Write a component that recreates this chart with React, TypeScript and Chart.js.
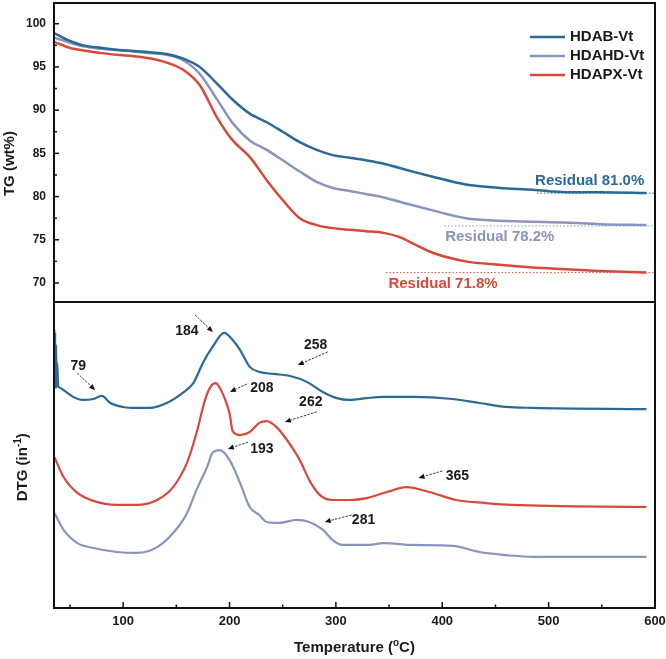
import React, { useEffect, useRef } from 'react';
import { Chart, registerables } from 'chart.js';
Chart.register(...registerables);

const FONT = '"Liberation Sans", Arial, Helvetica, sans-serif';
const INK = '#1a1a1a';

const seriesNames = ['HDAB-Vt', 'HDAHD-Vt', 'HDAPX-Vt'];
const seriesColors = ['#2b6a97', '#8a94bd', '#d8493c'];

const tempMin = 35;
const tempMax = 600;
const tempTicks = [100, 200, 300, 400, 500, 600];
const tempMinorTicks = [50, 150, 250, 350, 450, 550];
const tgTicks = [70, 75, 80, 85, 90, 95, 100];
const tgMinorTicks = [72.5, 77.5, 82.5, 87.5, 92.5, 97.5];

// TG curves (wt%)
const tgTemperature = [35.3, 50, 62.5, 80, 94, 110, 125, 141, 156, 172, 188, 203, 219, 235, 250, 266, 282, 297, 313, 328, 345, 360, 375, 391, 422, 454, 485, 516, 548, 592];
const tgHDAB = [98.9, 98.0, 97.5, 97.2, 97.0, 96.85, 96.7, 96.5, 96.0, 95.0, 93.1, 91.2, 89.6, 88.6, 87.5, 86.3, 85.4, 84.8, 84.5, 84.2, 83.8, 83.3, 82.8, 82.3, 81.4, 81.0, 80.8, 80.5, 80.5, 80.4];
const tgHDAHD = [98.4, 97.8, 97.4, 97.1, 96.95, 96.8, 96.6, 96.4, 95.8, 94.2, 91.3, 88.5, 86.5, 85.4, 84.2, 82.9, 81.7, 81.0, 80.65, 80.3, 79.9, 79.4, 78.9, 78.4, 77.5, 77.2, 77.1, 77.0, 76.8, 76.7];
const tgHDAPX = [97.9, 97.2, 96.9, 96.6, 96.4, 96.25, 96.0, 95.5, 94.7, 92.9, 89.2, 86.5, 84.6, 81.9, 79.6, 77.5, 76.7, 76.35, 76.15, 76.0, 75.8, 75.3, 74.4, 73.5, 72.5, 72.1, 71.8, 71.6, 71.4, 71.2];

// Residual annotations
const residualText = ['Residual 81.0%', 'Residual 78.2%', 'Residual 71.8%'];
const residualTextT = [538.6, 454.1, 400.7];
const residualTextV = [81.8, 75.3, 69.9];
const residualLineStartT = [489, 402, 347];
const residualLineV = [80.4, 76.6, 71.2];

// DTG curves (arbitrary units, offset)
const dtgTempHDAB = [35.3, 35.7, 36.1, 36.5, 37, 37.5, 38, 39, 41, 44, 53, 62.5, 72, 80, 88, 100, 113, 125, 141, 156, 166, 175, 184, 195, 203, 210, 219, 228.5, 241, 257, 272.6, 287.6, 300.7, 313, 329, 345, 372, 410, 435, 460, 485, 592];
const dtgHDAB = [91, 72, 90, 72, 86, 72, 80, 72.5, 71.9, 71.2, 69.0, 68.0, 68.3, 69.3, 67.0, 65.7, 65.4, 65.4, 67.0, 70.3, 73.5, 80.1, 85.3, 89.9, 87.6, 84.3, 78.8, 77.1, 76.5, 75.8, 73.9, 70.6, 68.6, 68.0, 68.6, 69.0, 69.0, 68.3, 67.0, 65.7, 65.4, 65.0];
const dtgTempHDAHD = [35.5, 44, 57, 72, 94, 113, 132, 147, 160, 169, 179, 184, 191, 200, 210, 219, 228, 235, 247, 263, 275, 288, 297, 306, 329, 345, 372, 410, 435, 460, 485, 592];
const dtgHDAHD = [31.0, 25.5, 21.2, 19.6, 18.3, 18.0, 19.9, 24.5, 31.0, 38.6, 46.1, 50.7, 51.6, 48.4, 40.8, 33.0, 30.4, 28.1, 27.8, 28.8, 28.1, 25.5, 22.2, 20.6, 20.6, 21.2, 20.6, 20.3, 18.3, 17.3, 16.7, 16.7];
const dtgTempHDAPX = [35.5, 44, 57, 72, 94, 113, 132, 147, 160, 169, 177, 182, 187, 191, 196, 200, 203, 210, 219, 228, 235, 244, 254, 266, 275, 285, 297, 313, 329, 348, 366, 388, 413, 441, 466, 592];
const dtgHDAPX = [49.3, 42.8, 37.6, 35.0, 33.7, 33.7, 35.3, 39.5, 47.4, 57.2, 68.0, 72.2, 73.5, 71.9, 68.0, 63.7, 57.8, 56.5, 57.5, 60.5, 61.1, 59.2, 54.9, 48.4, 41.8, 36.9, 35.3, 35.3, 35.9, 37.9, 39.5, 37.9, 35.3, 34.3, 33.7, 33.0];

// DTG peak annotations
const peakLabels = ['79', '184', '258', '208', '262', '193', '281', '365'];
const peakLabelT = [57.8, 160, 281, 230.4, 276.4, 230.4, 326, 414.3];
const peakLabelV = [79.1, 90.5, 85.9, 71.9, 67.3, 52.0, 28.8, 43.1];
const arrowFromT = [56.8, 167.5, 292.3, 216.3, 282, 217.3, 314.8, 400.2];
const arrowFromV = [76.8, 95.8, 83.7, 73.2, 64.1, 54.2, 30.4, 44.8];
const arrowToT = [73.7, 184.4, 264.2, 200.4, 252, 198.5, 289.5, 377.7];
const arrowToV = [71.2, 90.2, 79.4, 70.6, 60.8, 52.0, 28.1, 42.5];

const pts = (xs: number[], ys: number[]) => xs.map((x, i) => ({ x, y: ys[i] }));

function drawFrame(ctx: CanvasRenderingContext2D, a: any) {
  ctx.strokeStyle = '#111';
  ctx.lineWidth = 2;
  ctx.strokeRect(a.left, a.top, a.right - a.left, a.bottom - a.top);
}

function drawSupText(ctx: CanvasRenderingContext2D, parts: [string, boolean][], cx: number, cy: number, rotate: boolean) {
  ctx.save();
  ctx.translate(cx, cy);
  if (rotate) ctx.rotate(-Math.PI / 2);
  ctx.fillStyle = INK;
  ctx.textBaseline = 'middle';
  ctx.textAlign = 'left';
  const widths = parts.map(([t, sup]) => {
    ctx.font = sup ? `bold 10px ${FONT}` : `bold 15px ${FONT}`;
    return ctx.measureText(t).width;
  });
  const total = widths.reduce((s, w) => s + w, 0);
  let x = -total / 2;
  parts.forEach(([t, sup], i) => {
    ctx.font = sup ? `bold 10px ${FONT}` : `bold 15px ${FONT}`;
    ctx.fillText(t, x, sup ? -5 : 0);
    x += widths[i];
  });
  ctx.restore();
}

const tgDecor = {
  id: 'tgDecor',
  afterDraw(chart: any) {
    const { ctx, chartArea: a, scales } = chart;
    const ys = scales.y;
    ctx.save();
    drawFrame(ctx, a);
    ctx.lineWidth = 1.5;
    tgTicks.forEach((v) => {
      const y = ys.getPixelForValue(v);
      ctx.beginPath(); ctx.moveTo(a.left, y); ctx.lineTo(a.left + 5, y); ctx.stroke();
    });
    tgMinorTicks.forEach((v) => {
      const y = ys.getPixelForValue(v);
      ctx.beginPath(); ctx.moveTo(a.left, y); ctx.lineTo(a.left + 3, y); ctx.stroke();
    });
    drawSupText(ctx, [['TG (wt%)', false]], 10, a.top + (a.bottom - a.top) * 0.537, true);
    const lx0 = a.right - 125;
    const lx1 = a.right - 90;
    seriesNames.forEach((name, i) => {
      const y = a.top + 34 + i * 19;
      ctx.strokeStyle = seriesColors[i];
      ctx.lineWidth = 2.5;
      ctx.beginPath(); ctx.moveTo(lx0, y); ctx.lineTo(lx1, y); ctx.stroke();
      ctx.fillStyle = INK;
      ctx.font = `bold 15px ${FONT}`;
      ctx.textAlign = 'left';
      ctx.textBaseline = 'middle';
      ctx.fillText(name, lx1 + 5, y);
    });
    residualText.forEach((t, i) => {
      ctx.fillStyle = seriesColors[i];
      ctx.font = `bold 15px ${FONT}`;
      ctx.textAlign = 'center';
      ctx.textBaseline = 'middle';
      ctx.fillText(t, scales.x.getPixelForValue(residualTextT[i]), ys.getPixelForValue(residualTextV[i]));
    });
    ctx.restore();
  },
};

const dtgDecor = {
  id: 'dtgDecor',
  afterDraw(chart: any) {
    const { ctx, chartArea: a, scales } = chart;
    const xs = scales.x;
    const ys = scales.y;
    ctx.save();
    drawFrame(ctx, a);
    ctx.strokeStyle = '#111';
    ctx.lineWidth = 1.5;
    tempTicks.forEach((v) => {
      const x = xs.getPixelForValue(v);
      ctx.beginPath(); ctx.moveTo(x, a.bottom); ctx.lineTo(x, a.bottom - 6); ctx.stroke();
    });
    tempMinorTicks.forEach((v) => {
      const x = xs.getPixelForValue(v);
      ctx.beginPath(); ctx.moveTo(x, a.bottom); ctx.lineTo(x, a.bottom - 3.5); ctx.stroke();
    });
    drawSupText(ctx, [['Temperature (', false], ['o', true], ['C)', false]], (a.left + a.right) / 2, a.bottom + 40, false);
    drawSupText(ctx, [['DTG (in', false], ['-1', true], [')', false]], 23, a.top + (a.bottom - a.top) * 0.54, true);
    peakLabels.forEach((t, i) => {
      ctx.fillStyle = INK;
      ctx.font = `bold 14px ${FONT}`;
      ctx.textAlign = 'center';
      ctx.textBaseline = 'middle';
      ctx.fillText(t, xs.getPixelForValue(peakLabelT[i]), ys.getPixelForValue(peakLabelV[i]));
      const x0 = xs.getPixelForValue(arrowFromT[i]);
      const y0 = ys.getPixelForValue(arrowFromV[i]);
      const x1 = xs.getPixelForValue(arrowToT[i]);
      const y1 = ys.getPixelForValue(arrowToV[i]);
      const ang = Math.atan2(y1 - y0, x1 - x0);
      const hl = 6;
      const hx = x1 - hl * Math.cos(ang);
      const hy = y1 - hl * Math.sin(ang);
      ctx.strokeStyle = '#222';
      ctx.lineWidth = 0.9;
      ctx.setLineDash([2.5, 1.2]);
      ctx.beginPath(); ctx.moveTo(x0, y0); ctx.lineTo(hx, hy); ctx.stroke();
      ctx.setLineDash([]);
      ctx.fillStyle = '#111';
      ctx.beginPath();
      ctx.moveTo(x1, y1);
      ctx.lineTo(hx + 2.6 * Math.sin(ang), hy - 2.6 * Math.cos(ang));
      ctx.lineTo(hx - 2.6 * Math.sin(ang), hy + 2.6 * Math.cos(ang));
      ctx.closePath();
      ctx.fill();
    });
    ctx.restore();
  },
};

export default function App() {
  const topRef = useRef<HTMLCanvasElement>(null);
  const botRef = useRef<HTMLCanvasElement>(null);

  useEffect(() => {
    const lineDs = (label: string, data: any[], color: string, width: number) => ({
      label,
      data,
      borderColor: color,
      backgroundColor: color,
      borderWidth: width,
      pointRadius: 0,
      fill: false,
      cubicInterpolationMode: 'monotone' as const,
      order: 0,
    });

    const tgSeries = [tgHDAB, tgHDAHD, tgHDAPX];
    const top = new Chart(topRef.current!, {
      type: 'line',
      data: {
        datasets: [
          ...tgSeries.map((vals, i) => lineDs(seriesNames[i], pts(tgTemperature, vals), seriesColors[i], 2.5)),
          ...residualLineV.map((v, i) => ({
            label: 'residual-' + i,
            data: [{ x: residualLineStartT[i], y: v }, { x: tempMax, y: v }],
            borderColor: seriesColors[i],
            borderWidth: 1,
            borderDash: [1.5, 2],
            pointRadius: 0,
            fill: false,
            order: 5,
          })),
        ],
      },
      options: {
        responsive: false,
        animation: false,
        events: [],
        layout: { padding: { left: 0, right: 11, top: 3, bottom: 0 } },
        plugins: { legend: { display: false }, tooltip: { enabled: false } },
        scales: {
          x: { type: 'linear', min: tempMin, max: tempMax, display: false },
          y: {
            type: 'linear',
            min: 67.8,
            max: 102.4,
            grid: { display: false, drawTicks: false },
            border: { display: false },
            afterBuildTicks: (s: any) => { s.ticks = tgTicks.map((v) => ({ value: v })); },
            afterFit: (s: any) => { s.width = 54; s.paddingTop = 0; s.paddingBottom = 0; },
            ticks: { padding: 8, color: INK, font: { family: FONT, size: 12, weight: 'bold' } },
          },
        },
      },
      plugins: [tgDecor],
    });

    const dtgT = [dtgTempHDAB, dtgTempHDAHD, dtgTempHDAPX];
    const dtgV = [dtgHDAB, dtgHDAHD, dtgHDAPX];
    const bot = new Chart(botRef.current!, {
      type: 'line',
      data: {
        datasets: dtgV.map((vals, i) => lineDs(seriesNames[i], pts(dtgT[i], vals), seriesColors[i], 2.2)),
      },
      options: {
        responsive: false,
        animation: false,
        events: [],
        layout: { padding: { left: 54, right: 11, top: 0, bottom: 0 } },
        plugins: { legend: { display: false }, tooltip: { enabled: false } },
        scales: {
          x: {
            type: 'linear',
            min: tempMin,
            max: tempMax,
            grid: { display: false, drawTicks: false },
            border: { display: false },
            afterBuildTicks: (s: any) => { s.ticks = tempTicks.map((v) => ({ value: v })); },
            afterFit: (s: any) => { s.height = 51; s.paddingLeft = 0; s.paddingRight = 0; },
            ticks: { padding: 6, maxRotation: 0, color: INK, font: { family: FONT, size: 13, weight: 'bold' } },
          },
          y: { type: 'linear', min: 0, max: 100, display: false },
        },
      },
      plugins: [dtgDecor],
    });

    return () => { top.destroy(); bot.destroy(); };
  }, []);

  return (
    <div style={{ position: 'absolute', left: 0, top: 0, width: 666, height: 659, background: '#fff' }}>
      <canvas ref={topRef} width={666} height={302} style={{ display: 'block' }} />
      <canvas ref={botRef} width={666} height={357} style={{ display: 'block' }} />
    </div>
  );
}
